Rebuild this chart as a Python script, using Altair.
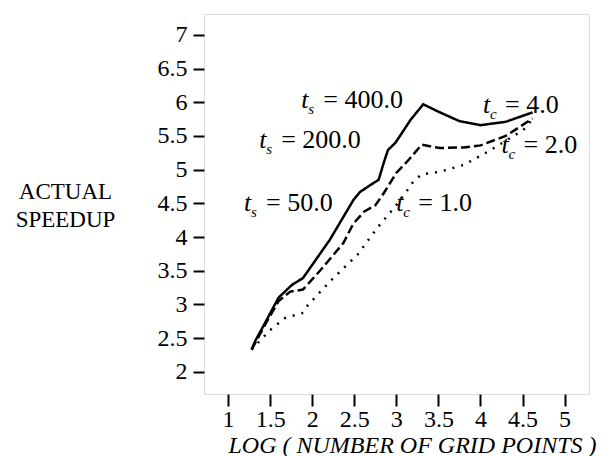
import altair as alt
import pandas as pd

FONT = "Liberation Serif"

# ---- data ----
x_solid = [1.28, 1.32, 1.45, 1.6, 1.76, 1.89, 2.21, 2.49, 2.57, 2.69, 2.79, 2.85, 2.9, 2.99, 3.17, 3.32, 3.5, 3.75, 4.0, 4.3, 4.62]
y_solid = [2.33, 2.45, 2.75, 3.1, 3.29, 3.39, 3.96, 4.55, 4.67, 4.77, 4.85, 5.1, 5.29, 5.4, 5.74, 5.97, 5.86, 5.72, 5.66, 5.71, 5.85]

x_dash = [1.28, 1.45, 1.6, 1.74, 1.89, 2.1, 2.37, 2.49, 2.62, 2.75, 2.85, 3.0, 3.15, 3.3, 3.52, 3.8, 4.0, 4.3, 4.62]
y_dash = [2.33, 2.72, 3.05, 3.19, 3.22, 3.51, 3.91, 4.2, 4.38, 4.47, 4.65, 4.95, 5.15, 5.37, 5.32, 5.33, 5.36, 5.5, 5.76]

x_dot = [1.28, 1.5, 1.68, 1.88, 1.95, 2.21, 2.54, 2.77, 2.93, 3.05, 3.2, 3.3, 3.52, 3.8, 3.92, 4.12, 4.51, 4.62]
y_dot = [2.33, 2.62, 2.8, 2.87, 2.99, 3.34, 3.74, 4.13, 4.37, 4.55, 4.82, 4.93, 4.97, 5.07, 5.15, 5.29, 5.59, 5.75]

series_names = ["tc4", "tc2", "tc1"]

label_main = ["t", "t", "t", "t", "t", "t"]
label_sub = ["s", "s", "s", "c", "c", "c"]
label_rest = ["= 400.0", "= 200.0", "= 50.0", "= 4.0", "= 2.0", "= 1.0"]
label_x = [1.87, 1.37, 1.19, 4.03, 4.25, 3.0]
label_y = [6.04, 5.44, 4.51, 5.96, 5.37, 4.51]

x_ticks = [1, 1.5, 2, 2.5, 3, 3.5, 4, 4.5, 5]
y_ticks = [2, 2.5, 3, 3.5, 4, 4.5, 5, 5.5, 6, 6.5, 7]

rows = []
for name, xs_, ys_ in zip(series_names, [x_solid, x_dash, x_dot], [y_solid, y_dash, y_dot]):
    for i, (a, b) in enumerate(zip(xs_, ys_)):
        rows.append({"series": name, "order": i, "x": a, "y": b})
lines_df = pd.DataFrame(rows)

labels_df = pd.DataFrame({
    "main": label_main, "sub": label_sub, "rest": label_rest,
    "x": label_x, "y": label_y,
})

xs = alt.Scale(domain=[0.714, 5.29], nice=False, zero=False)
ys = alt.Scale(domain=[1.67, 7.31], nice=False, zero=False)

x_axis = alt.Axis(
    values=x_ticks, format="~g", title="LOG ( NUMBER OF GRID POINTS )", grid=False, domain=False,
    tickSize=12, tickWidth=2, tickColor="black",
    labelFont=FONT, labelFontSize=24, labelColor="black", labelPadding=1,
    labelFlush=False, labelOverlap=False,
    titleFont=FONT, titleFontSize=24, titleFontStyle="italic", titleFontWeight="normal",
    titleColor="black", titleX=208, titleY=58, titleBaseline="alphabetic",
)
y_axis = alt.Axis(
    values=y_ticks, format="~g", title=["ACTUAL", "SPEEDUP"], grid=False, domain=False,
    tickSize=11, tickWidth=2, tickColor="black",
    labelFont=FONT, labelFontSize=24, labelColor="black", labelPadding=6,
    labelFlush=False, labelOverlap=False,
    titleFont=FONT, titleFontSize=23, titleFontWeight="normal", titleColor="black",
    titleAngle=0, titleAlign="center", titleBaseline="alphabetic",
    titleX=-139, titleY=184, titleLineHeight=28,
)

X = alt.X("x:Q", scale=xs, axis=x_axis)
Y = alt.Y("y:Q", scale=ys, axis=y_axis)

lines = alt.Chart(lines_df).mark_line(color="black", strokeWidth=2.5).encode(
    x=X, y=Y,
    detail="series:N",
    order="order:Q",
    strokeDash=alt.StrokeDash(
        "series:N",
        scale=alt.Scale(domain=series_names, range=[[1, 0], [9, 4], [2, 7]]),
        legend=None,
    ),
)

base_t = alt.Chart(labels_df).encode(x=X, y=Y)
t_main = base_t.mark_text(font=FONT, fontSize=26, fontStyle="italic", align="left",
                          baseline="middle", color="black").encode(text="main:N")
t_sub = base_t.mark_text(font=FONT, fontSize=15, fontStyle="italic", align="left",
                         baseline="middle", dx=7, dy=9, color="black").encode(text="sub:N")
t_rest = base_t.mark_text(font=FONT, fontSize=26, align="left", baseline="middle",
                          dx=22, color="black").encode(text="rest:N")

chart = alt.layer(lines, t_main, t_sub, t_rest).properties(
    width=385, height=380,
    autosize=alt.AutoSizeParams(type="none"),
    padding={"left": 196, "top": 6, "right": 10, "bottom": 62},
).configure_view(stroke="black", strokeWidth=2.2).configure(background="white")

chart.save("out.html", embed_options={"renderer": "svg", "actions": False})
